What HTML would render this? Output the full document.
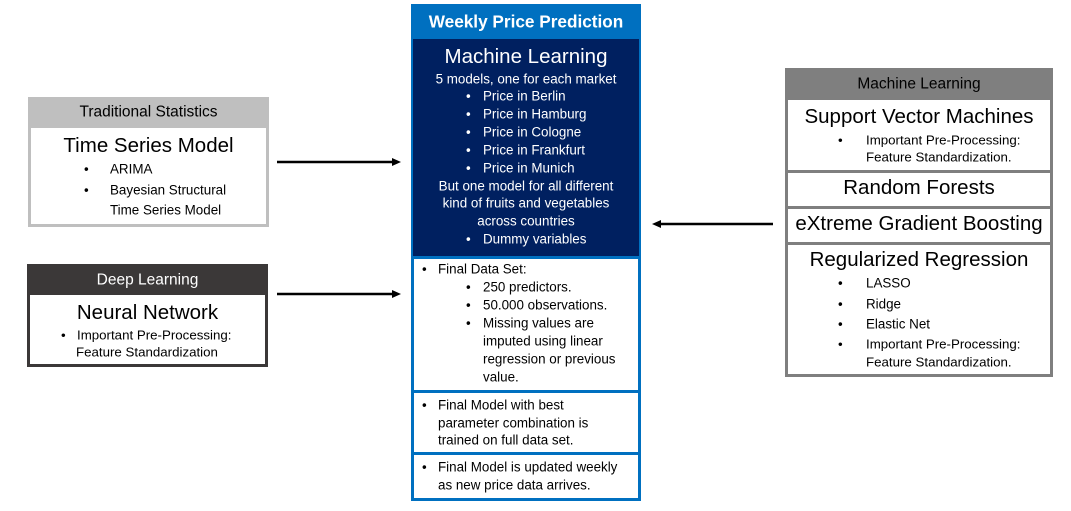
<!DOCTYPE html>
<html><head><meta charset="utf-8">
<style>
body{margin:0;width:1071px;height:511px;background:#fff;position:relative;overflow:hidden;font-family:"Liberation Sans",sans-serif;color:#000}
.b{position:absolute;box-sizing:border-box}
.t{position:absolute;white-space:nowrap;line-height:1;transform:translateY(-50%)}
.s13{font-size:13.4px}.s12{font-size:13.3px}.s19{font-size:20.5px}.h{font-size:15.5px}
.w{color:#fff}
</style></head><body>
<div class="b" style="left:28px;top:97px;width:241px;height:31px;background:#bfbfbf"></div>
<div class="t h" style="left:28px;width:241px;text-align:center;top:112px">Traditional Statistics</div>
<div class="b" style="left:28px;top:127px;width:241px;height:100px;border:3px solid #bfbfbf;border-top:none"></div>
<div class="t s19" style="left:28px;width:241px;text-align:center;top:146px">Time Series Model</div>
<div class="t s13" style="left:84px;top:169px">•</div>
<div class="t s13" style="left:110px;top:169px">ARIMA</div>
<div class="t s13" style="left:84px;top:190px">•</div>
<div class="t s13" style="left:110px;top:190px">Bayesian Structural</div>
<div class="t s13" style="left:110px;top:210px">Time Series Model</div>

<div class="b" style="left:27px;top:264px;width:241px;height:31px;background:#3b3838"></div>
<div class="t h w" style="left:27px;width:241px;text-align:center;top:280px">Deep Learning</div>
<div class="b" style="left:27px;top:294px;width:241px;height:73px;border:3px solid #3b3838;border-top:none"></div>
<div class="t s19" style="left:27px;width:241px;text-align:center;top:313px">Neural Network</div>
<div class="t s12" style="left:61px;top:335px">•</div>
<div class="t s12" style="left:77px;top:335px">Important Pre-Processing:</div>
<div class="t s12" style="left:76px;top:352px">Feature Standardization</div>

<svg class="b" style="left:0;top:0" width="1071" height="511">
<line x1="277" y1="162" x2="393" y2="162" stroke="#000" stroke-width="2.5"/><polygon points="401,162 392,158 392,166" fill="#000"/>
<line x1="277" y1="294" x2="393" y2="294" stroke="#000" stroke-width="2.5"/><polygon points="401,294 392,290 392,298" fill="#000"/>
<line x1="660" y1="224" x2="773" y2="224" stroke="#000" stroke-width="2.5"/><polygon points="652,224 661,220 661,228" fill="#000"/>
</svg>

<div class="b" style="left:411px;top:4px;width:230px;height:36px;background:#0070c0"></div>
<div class="t w" style="left:411px;width:230px;text-align:center;top:22px;font-size:17.2px;font-weight:bold">Weekly Price Prediction</div>
<div class="b" style="left:411px;top:39px;width:230px;height:218px;background:#002060;border-left:2px solid #0070c0;border-right:2px solid #0070c0"></div>
<div class="t w s19" style="left:411px;width:230px;text-align:center;top:57px">Machine Learning</div>
<div class="t w s13" style="left:411px;width:230px;text-align:center;top:79px">5 models, one for each market</div>
<div class="t w s13" style="left:466px;top:96px">•</div><div class="t w s13" style="left:483px;top:96px">Price in Berlin</div>
<div class="t w s13" style="left:466px;top:114px">•</div><div class="t w s13" style="left:483px;top:114px">Price in Hamburg</div>
<div class="t w s13" style="left:466px;top:132px">•</div><div class="t w s13" style="left:483px;top:132px">Price in Cologne</div>
<div class="t w s13" style="left:466px;top:150px">•</div><div class="t w s13" style="left:483px;top:150px">Price in Frankfurt</div>
<div class="t w s13" style="left:466px;top:168px">•</div><div class="t w s13" style="left:483px;top:168px">Price in Munich</div>
<div class="t w s13" style="left:411px;width:230px;text-align:center;top:186px">But one model for all different</div>
<div class="t w s13" style="left:411px;width:230px;text-align:center;top:203px">kind of fruits and vegetables</div>
<div class="t w s13" style="left:411px;width:230px;text-align:center;top:221px">across countries</div>
<div class="t w s13" style="left:466px;top:239px">•</div><div class="t w s13" style="left:483px;top:239px">Dummy variables</div>

<div class="b" style="left:411px;top:256px;width:230px;height:137px;border:3px solid #0070c0"></div>
<div class="t s13" style="left:422px;top:269px">•</div>
<div class="t s13" style="left:438px;top:269px">Final Data Set:</div>
<div class="t s13" style="left:466px;top:287px">•</div><div class="t s13" style="left:483px;top:287px">250 predictors.</div>
<div class="t s13" style="left:466px;top:305px">•</div><div class="t s13" style="left:483px;top:305px">50.000 observations.</div>
<div class="t s13" style="left:466px;top:323px">•</div><div class="t s13" style="left:483px;top:323px">Missing values are</div>
<div class="t s13" style="left:483px;top:341px">imputed using linear</div>
<div class="t s13" style="left:483px;top:359px">regression or previous</div>
<div class="t s13" style="left:483px;top:377px">value.</div>

<div class="b" style="left:411px;top:390px;width:230px;height:65px;border:3px solid #0070c0"></div>
<div class="t s13" style="left:422px;top:405px">•</div>
<div class="t s13" style="left:438px;top:405px">Final Model with best</div>
<div class="t s13" style="left:438px;top:423px">parameter combination is</div>
<div class="t s13" style="left:438px;top:440px">trained on full data set.</div>

<div class="b" style="left:411px;top:452px;width:230px;height:49px;border:3px solid #0070c0"></div>
<div class="t s13" style="left:422px;top:467px">•</div>
<div class="t s13" style="left:438px;top:467px">Final Model is updated weekly</div>
<div class="t s13" style="left:438px;top:485px">as new price data arrives.</div>

<div class="b" style="left:785px;top:68px;width:268px;height:31px;background:#7f7f7f"></div>
<div class="t h" style="left:785px;width:268px;text-align:center;top:84px">Machine Learning</div>
<div class="b" style="left:785px;top:97px;width:268px;height:76px;border:3px solid #7f7f7f"></div>
<div class="t s19" style="left:785px;width:268px;text-align:center;top:117px">Support Vector Machines</div>
<div class="t s12" style="left:838px;top:140px">•</div>
<div class="t s12" style="left:866px;top:140px">Important Pre-Processing:</div>
<div class="t s12" style="left:866px;top:157px">Feature Standardization.</div>
<div class="b" style="left:785px;top:170px;width:268px;height:39px;border:3px solid #7f7f7f"></div>
<div class="t s19" style="left:785px;width:268px;text-align:center;top:188px">Random Forests</div>
<div class="b" style="left:785px;top:206px;width:268px;height:39px;border:3px solid #7f7f7f"></div>
<div class="t s19" style="left:785px;width:268px;text-align:center;top:224px">eXtreme Gradient Boosting</div>
<div class="b" style="left:785px;top:242px;width:268px;height:135px;border:3px solid #7f7f7f"></div>
<div class="t s19" style="left:785px;width:268px;text-align:center;top:260px">Regularized Regression</div>
<div class="t s13" style="left:838px;top:283px">•</div>
<div class="t s13" style="left:866px;top:283px">LASSO</div>
<div class="t s13" style="left:838px;top:304px">•</div>
<div class="t s13" style="left:866px;top:304px">Ridge</div>
<div class="t s13" style="left:838px;top:324px">•</div>
<div class="t s13" style="left:866px;top:324px">Elastic Net</div>
<div class="t s12" style="left:838px;top:344px">•</div>
<div class="t s12" style="left:866px;top:344px">Important Pre-Processing:</div>
<div class="t s12" style="left:866px;top:362px">Feature Standardization.</div>
</body></html>
